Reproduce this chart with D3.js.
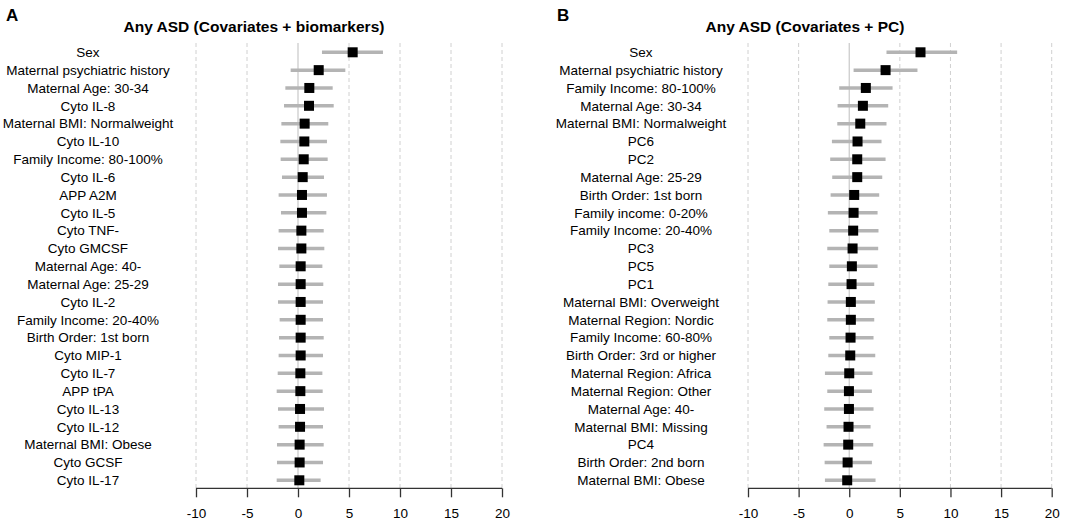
<!DOCTYPE html>
<html><head><meta charset="utf-8">
<script src="https://cdn.jsdelivr.net/npm/d3@7"></script>
<style>body{margin:0;background:#fff}svg{display:block}text{font-family:Arial,"Liberation Sans",sans-serif}</style>
</head><body><svg id="c" width="1084" height="520"></svg>
<script>
const xTicks = [-10, -5, 0, 5, 10, 15, 20];

const labelsA = ["Sex","Maternal psychiatric history","Maternal Age: 30-34","Cyto IL-8","Maternal BMI: Normalweight","Cyto IL-10","Family Income: 80-100%","Cyto IL-6","APP A2M","Cyto IL-5","Cyto TNF-","Cyto GMCSF","Maternal Age: 40-","Maternal Age: 25-29","Cyto IL-2","Family Income: 20-40%","Birth Order: 1st born","Cyto MIP-1","Cyto IL-7","APP tPA","Cyto IL-13","Cyto IL-12","Maternal BMI: Obese","Cyto GCSF","Cyto IL-17"];
const estA = [5.36,2.03,1.11,1.08,0.65,0.62,0.56,0.46,0.39,0.39,0.33,0.33,0.26,0.26,0.26,0.26,0.26,0.26,0.23,0.23,0.20,0.20,0.16,0.16,0.13];
const lowA = [2.35,-0.72,-1.24,-1.37,-1.63,-1.73,-1.70,-1.57,-1.90,-1.67,-1.90,-1.96,-1.83,-1.96,-1.96,-1.80,-1.86,-1.90,-1.99,-2.09,-1.96,-1.90,-2.06,-2.06,-2.09];
const highA = [8.33,4.64,3.40,3.50,2.97,2.84,2.91,2.55,2.84,2.78,2.52,2.58,2.39,2.48,2.45,2.45,2.52,2.45,2.39,2.42,2.55,2.45,2.52,2.45,2.22];

const labelsB = ["Sex","Maternal psychiatric history","Family Income: 80-100%","Maternal Age: 30-34","Maternal BMI: Normalweight","PC6","PC2","Maternal Age: 25-29","Birth Order: 1st born","Family income: 0-20%","Family Income: 20-40%","PC3","PC5","PC1","Maternal BMI: Overweight","Maternal Region: Nordic","Family Income: 60-80%","Birth Order: 3rd or higher","Maternal Region: Africa","Maternal Region: Other","Maternal Age: 40-","Maternal BMI: Missing","PC4","Birth Order: 2nd born","Maternal BMI: Obese"];
const estB = [7.04,3.59,1.64,1.35,1.09,0.82,0.79,0.79,0.49,0.43,0.39,0.33,0.26,0.23,0.16,0.16,0.13,0.10,0.00,-0.03,-0.03,-0.07,-0.10,-0.16,-0.20];
const lowB = [3.68,0.43,-0.99,-1.15,-1.18,-1.71,-1.88,-1.68,-1.84,-2.11,-1.97,-2.17,-1.97,-2.07,-2.14,-2.17,-1.97,-2.07,-2.40,-2.17,-2.47,-2.24,-2.53,-2.43,-2.40];
const highB = [10.66,6.74,4.28,3.85,3.68,3.19,3.59,3.26,2.96,2.80,2.89,2.86,2.80,2.47,2.53,2.47,2.40,2.57,2.30,2.24,2.40,2.11,2.37,2.24,2.60];

const svg = d3.select("#c");

function panel(cfg) {
  const {letter, title, labels, est, low, high, left, right, letterX, titleX, labelX} = cfg;
  const x = d3.scaleLinear().domain([-10, 20]).range([left, right]);
  const y = d3.scalePoint().domain(labels).range([52.3, 480.3]);
  const g = svg.append("g");
  const axisY = 488.3, gridTop = 43;

  g.append("text").attr("x", letterX).attr("y", 21).attr("font-size", 17).attr("font-weight", "bold").text(letter);
  g.append("text").attr("x", titleX).attr("y", 32).attr("text-anchor", "middle").attr("font-size", 15.5).attr("font-weight", "bold").text(title);

  g.selectAll("line.grid").data(xTicks.filter(d => d !== 0)).enter().append("line")
    .attr("x1", d => x(d)).attr("x2", d => x(d)).attr("y1", gridTop).attr("y2", axisY)
    .attr("stroke", "#d0d0d0").attr("stroke-width", 1).attr("stroke-dasharray", "4,3");
  g.append("line").attr("x1", x(0)).attr("x2", x(0)).attr("y1", gridTop).attr("y2", axisY)
    .attr("stroke", "#c8c8c8").attr("stroke-width", 1.2);

  const ax = g.append("g").attr("transform", `translate(0,${axisY})`)
    .call(d3.axisBottom(x).tickValues(xTicks).tickSize(9).tickPadding(11).tickFormat(d => String(d)));
  ax.select(".domain").attr("stroke", "#333").attr("stroke-width", 1.3).attr("d", `M${x(-10)},0H${x(20)}`);
  ax.selectAll(".tick line").attr("stroke", "#333").attr("stroke-width", 1.3);
  ax.selectAll(".tick text").attr("font-size", 13.5).attr("fill", "#000").attr("font-family", "Arial, 'Liberation Sans', sans-serif");

  g.selectAll("line.ci").data(labels).enter().append("line")
    .attr("x1", (d, i) => x(low[i])).attr("x2", (d, i) => x(high[i]))
    .attr("y1", d => y(d)).attr("y2", d => y(d))
    .attr("stroke", "#b4b4b4").attr("stroke-width", 3.5);

  const s = 10;
  g.selectAll("rect.pt").data(labels).enter().append("rect")
    .attr("x", (d, i) => x(est[i]) - s / 2).attr("y", d => y(d) - s / 2)
    .attr("width", s).attr("height", s).attr("fill", "#000");

  g.selectAll("text.lab").data(labels).enter().append("text")
    .attr("x", labelX).attr("y", d => y(d)).attr("dy", "0.36em")
    .attr("text-anchor", "middle").attr("font-size", 13.5).text(d => d);
}

panel({letter: "A", title: "Any ASD (Covariates + biomarkers)", labels: labelsA, est: estA, low: lowA, high: highA,
  left: 196, right: 502, letterX: 6, titleX: 254, labelX: 88});
panel({letter: "B", title: "Any ASD (Covariates + PC)", labels: labelsB, est: estB, low: lowB, high: highB,
  left: 748, right: 1051.7, letterX: 557, titleX: 805, labelX: 641});
</script></body></html>
